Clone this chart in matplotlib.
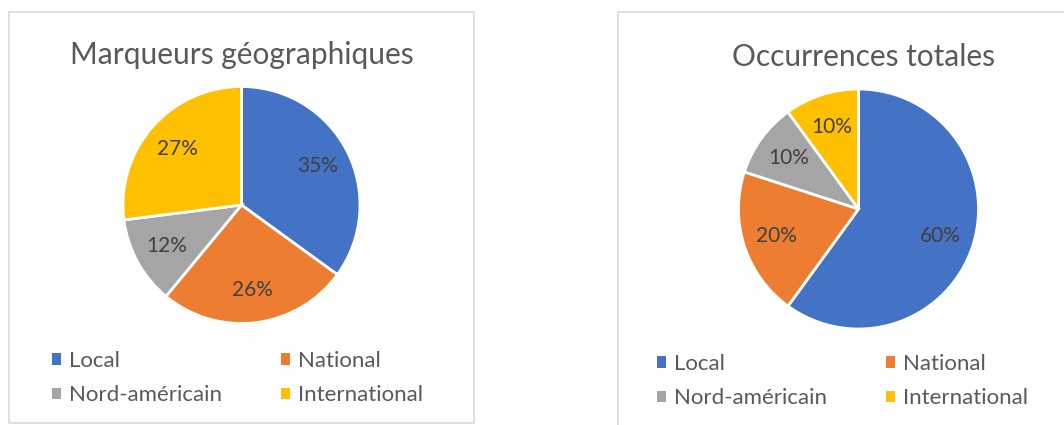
import matplotlib.pyplot as plt
from matplotlib.patches import Patch, Rectangle

plt.rcParams['font.family'] = ['Lato', 'DejaVu Sans']

categories = ['Local', 'National', 'Nord-américain', 'International']
colors = ['#4472C4', '#ED7D31', '#A5A5A5', '#FFC000']
geo_values = [35, 26, 12, 27]
total_values = [60, 20, 10, 10]
titles = ['Marqueurs géographiques', 'Occurrences totales']

W, H = 1064, 425
fig = plt.figure(figsize=(W / 100, H / 100), dpi=100)


def px_axes(cx, cy, r):
    # axes in pixel coords (origin top-left)
    return fig.add_axes([(cx - r) / W, (H - cy - r) / H, 2 * r / W, 2 * r / H])


# chart frames
fig.patches.append(Rectangle((9 / W, (H - 423) / H), (474 - 9) / W, (423 - 12) / H,
                             transform=fig.transFigure, fill=False, edgecolor='#D9D9D9', lw=1.2))
fig.patches.append(Rectangle((618 / W, -0.1), 1.0, (H - 12) / H + 0.1,
                             transform=fig.transFigure, fill=False, edgecolor='#D9D9D9', lw=1.2))

# (values, centre x, centre y, radius, title x, title y, legend x, legend top)
charts = [
    (geo_values, 241.5, 205, 118.5, 242, 55, 52, 351),
    (total_values, 858.5, 209, 120, 864, 57, 657, 354),
]

for (vals, cx, cy, r, tx, ty, lx, ly), title in zip(charts, titles):
    ax = px_axes(cx, cy, r)
    ax.pie(vals, colors=colors, startangle=90, counterclock=False,
           autopct='%1.0f%%', pctdistance=0.72,
           wedgeprops=dict(edgecolor='white', linewidth=2),
           textprops=dict(color='#404040', fontsize=15))
    ax.set_xlim(-1, 1)
    ax.set_ylim(-1, 1)
    fig.text(tx / W, 1 - ty / H, title, ha='center', va='center',
             fontsize=21.5, color='#595959')

    handles = [Patch(facecolor=c, edgecolor='none') for c in colors]
    order = [0, 2, 1, 3]
    fig.legend([handles[i] for i in order], [categories[i] for i in order],
               ncol=2, loc='upper left',
               bbox_to_anchor=(lx / W, 1 - ly / H),
               frameon=False, fontsize=16, labelcolor='#595959',
               handlelength=0.4, handleheight=0.4, handletextpad=0.36,
               columnspacing=2.67, labelspacing=0.65, borderpad=0,
               borderaxespad=0)

fig.savefig('out.png', dpi=100)
